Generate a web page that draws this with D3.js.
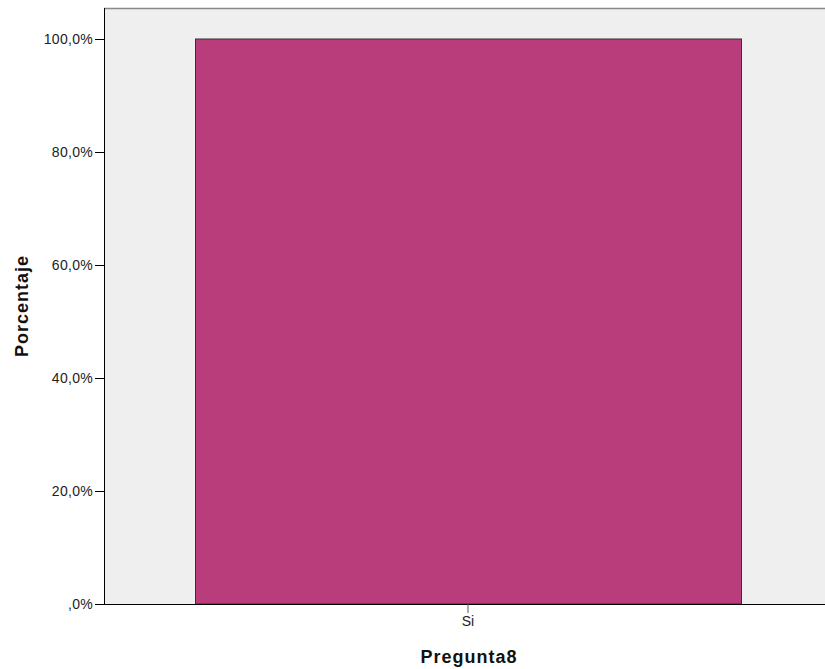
<!DOCTYPE html>
<html><head><meta charset="utf-8">
<script src="https://cdn.jsdelivr.net/npm/d3@7"></script>
<style>body{margin:0;background:#fff}svg{display:block}</style>
</head><body>
<script>
const categories = ["Si"];
const values = [100];
const yTicks = [0, 20, 40, 60, 80, 100];
const yTickLabels = [",0%", "20,0%", "40,0%", "60,0%", "80,0%", "100,0%"];
const xTitle = "Pregunta8";
const yTitle = "Porcentaje";

(function () {
const W = 825, H = 669;
const mLeft = 104, mTop = 8, mBottom = 604, mRight = 832;
const svg = d3.select("body").append("svg").attr("width", W).attr("height", H);

const x = d3.scaleBand().domain(categories).range([mLeft, mRight]).paddingInner(0).paddingOuter(1/6);
const y = d3.scaleLinear().domain([0, 100]).range([mBottom, 39]);

svg.append("rect").attr("x", mLeft).attr("y", mTop).attr("width", mRight - mLeft).attr("height", mBottom - mTop)
  .attr("fill", "#efefef");
svg.append("line").attr("x1", mLeft).attr("x2", W).attr("y1", mTop + 0.5).attr("y2", mTop + 0.5)
  .attr("stroke", "#888").attr("stroke-width", 1.5);

svg.selectAll("rect.bar").data(values).join("rect").attr("class", "bar")
  .attr("x", (d, i) => x(categories[i]) + 0.5)
  .attr("y", d => y(d))
  .attr("width", x.bandwidth())
  .attr("height", d => mBottom - y(d))
  .attr("fill", "#ba3d7b").attr("stroke", "#333").attr("stroke-width", 1);

const font = "Arial, 'Liberation Sans', sans-serif";
const yAxis = d3.axisLeft(y).tickValues(yTicks).tickFormat((d, i) => yTickLabels[i]).tickSizeOuter(0).tickSize(9).tickPadding(2);
const gy = svg.append("g").attr("transform", `translate(${mLeft},0)`).call(yAxis);
gy.select(".domain").attr("d", `M0.5,${mTop}V${mBottom}`).attr("stroke", "#000");
gy.selectAll(".tick line").attr("stroke", "#000");
gy.selectAll("text").attr("font-family", font).attr("font-size", 14).attr("letter-spacing", 0.3).attr("fill", "#222");

const xAxis = d3.axisBottom(x).tickSize(9).tickSizeOuter(0).tickPadding(3);
const gx = svg.append("g").attr("transform", `translate(0,${mBottom})`).call(xAxis);
gx.select(".domain").attr("d", `M${mLeft},0.5H${W}`).attr("stroke", "#000");
gx.selectAll(".tick line").attr("stroke", "#555");
gx.selectAll("text").attr("font-family", font).attr("font-size", 14).attr("fill", "#222");

svg.append("text").attr("x", 469).attr("y", 663).attr("text-anchor", "middle")
  .attr("font-family", font).attr("font-weight", "bold").attr("font-size", 18).attr("letter-spacing", 1)
  .attr("fill", "#111").text(xTitle);
svg.append("text").attr("transform", "translate(28,306) rotate(-90)").attr("text-anchor", "middle")
  .attr("font-family", font).attr("font-weight", "bold").attr("font-size", 18).attr("letter-spacing", 1)
  .attr("fill", "#111").text(yTitle);
})();
</script>
</body></html>
